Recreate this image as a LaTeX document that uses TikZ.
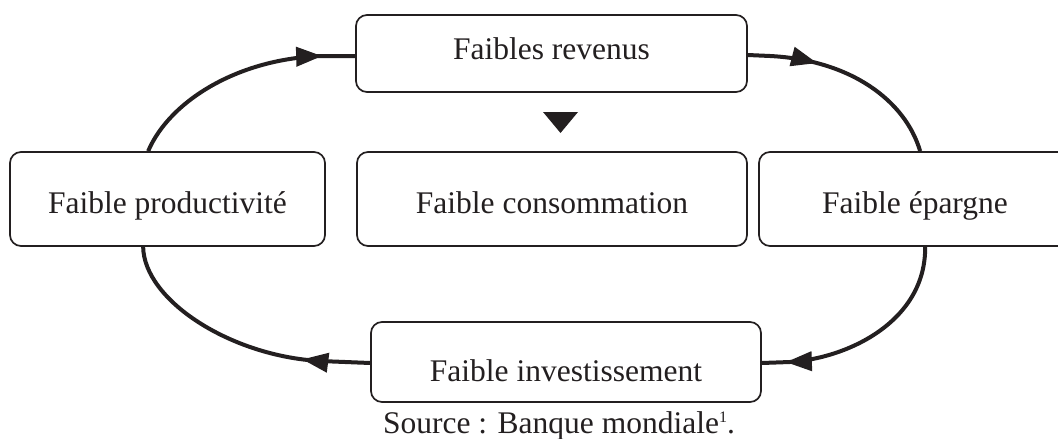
\documentclass[tikz,border=0pt]{standalone}
\usepackage{fontspec}
\setmainfont{Liberation Serif}
\usetikzlibrary{arrows.meta,decorations.markings}
\definecolor{ink}{RGB}{35,31,32}
\begin{document}
\begin{tikzpicture}[x=1pt,y=-1pt,
  box/.style={draw=ink, line width=1.7pt, rounded corners=11pt, inner sep=0pt},
  lbl/.style={text=ink, font=\fontsize{31.5}{36}\selectfont, anchor=base, inner sep=0pt},
  flow/.style={draw=ink, line width=4pt},
]
\path[use as bounding box] (0,0) rectangle (1058,439);
\clip (0,0) rectangle (1058,439);

% boxes
\node[box, minimum width=391pt, minimum height=77pt] (rev)  at (551.5,53.5) {};
\node[box, minimum width=315pt, minimum height=94pt] (prod) at (167.5,199) {};
\node[box, minimum width=390pt, minimum height=94pt] (cons) at (552,199) {};
\node[box, minimum width=312pt, minimum height=94pt] (epar) at (915,199) {};
\node[box, minimum width=390pt, minimum height=80pt] (inv)  at (566,362) {};

% labels
\node[lbl] (revT)  at (551.5,59) {Faibles revenus};
\node[lbl] (prodT) at (167.5,213) {Faible productivité};
\node[lbl] (consT) at (552,213) {Faible consommation};
\node[lbl] (eparT) at (915,213) {Faible épargne};
\node[lbl] (invT)  at (566,381) {Faible investissement};
\node[lbl] (src)   at (559,433) {Source : Banque mondiale\raisebox{11pt}{\fontsize{16}{16}\selectfont 1}.};

% triangle between revenus and consommation
\fill[ink] (543,112) -- (578,112) -- (560.5,133) -- cycle;

% connectors
\draw[flow, postaction={decorate}, decoration={markings, mark=at position -33pt with {\arrow[ink]{Triangle[length=26pt,width=19pt]}}}]
  ([xshift=139pt]prod.north west) .. controls (170,100) and (240,58) .. (323,56) -- ([yshift=-2.5pt]rev.west);

\draw[flow, postaction={decorate}, decoration={markings, mark=at position 70pt with {\arrow[ink]{Triangle[length=26pt,width=19pt]}}}]
  ([yshift=-1.5pt]rev.east) -- (770,56) .. controls (850,60) and (905,100) .. ([xshift=162pt]epar.north west);

\draw[flow, postaction={decorate}, decoration={markings, mark=at position -24pt with {\arrow[ink]{Triangle[length=26pt,width=19pt]}}}]
  ([xshift=167pt]epar.south west) .. controls (926,320) and (850,358) .. (790,362) -- ([yshift=-1pt]inv.east);

\draw[flow, postaction={decorate}, decoration={markings, mark=at position 68pt with {\arrow[ink]{Triangle[length=26pt,width=19pt]}}}]
  ([yshift=-1pt]inv.west) -- (320,361) .. controls (230,356) and (144,300) .. ([xshift=134pt]prod.south west);
\end{tikzpicture}
\end{document}
